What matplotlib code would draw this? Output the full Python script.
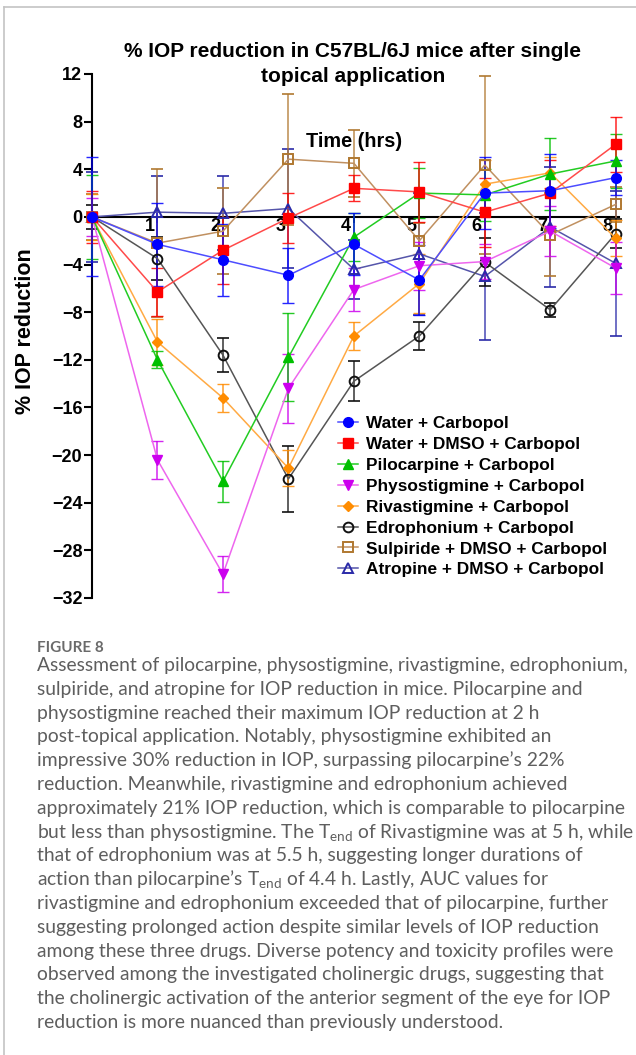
import matplotlib
matplotlib.use("Agg")
import matplotlib.pyplot as plt
from matplotlib.lines import Line2D
from matplotlib.transforms import ScaledTranslation

W, H = 636, 1055

# data (% IOP reduction, mean and SEM)
hours = [0, 1, 2, 3, 4, 5, 6, 7, 8]
hour_labels = ["1", "2", "3", "4", "5", "6", "7", "8"]

water = [0, -2.3, -3.6, -4.9, -2.3, -5.3, 2.0, 2.2, 3.3]
water_err = [5.0, 3.5, 3.0, 2.3, 2.6, 2.9, 3.0, 3.1, 1.5]

water_dmso = [0, -6.3, -2.8, -0.1, 2.4, 2.1, 0.4, 2.0, 6.1]
water_dmso_err = [2.2, 2.0, 2.8, 2.1, 1.1, 2.5, 2.9, 2.8, 2.3]

pilocarpine = [0, -12.0, -22.2, -11.8, -1.7, 2.0, 1.85, 3.6, 4.7]
pilocarpine_err = [3.5, 0.7, 1.7, 3.7, 2.0, 2.1, 2.2, 3.0, 2.3]

physostigmine = [0, -20.4, -30.0, -14.4, -6.1, -4.1, -3.75, -1.2, -4.3]
physostigmine_err = [1.6, 1.6, 1.5, 2.9, 1.8, 2.0, 1.5, 2.1, 2.2]

rivastigmine = [0, -10.5, -15.2, -21.1, -10.0, -5.6, 2.75, 3.7, -1.8]
rivastigmine_err = [1.9, 1.9, 1.2, 1.5, 1.2, 2.5, 2.0, 1.3, 1.5]

edrophonium = [0, -3.5, -11.6, -22.0, -13.8, -10.0, -3.8, -7.8, -1.4]
edrophonium_err = [1.0, 1.8, 1.4, 2.8, 1.7, 1.2, 2.0, 0.6, 1.2]

sulpiride = [0, -2.2, -1.2, 4.85, 4.5, -2.0, 4.35, -1.5, 1.05]
sulpiride_err = [1.9, 6.2, 3.6, 5.5, 2.8, 1.5, 7.5, 3.5, 1.5]

atropine = [0, 0.4, 0.3, 0.7, -4.4, -3.1, -5.0, -0.85, -3.9]
atropine_err = [3.8, 3.0, 3.1, 5.0, 2.5, 5.1, 5.3, 5.0, 6.1]

series_names = [
    "Water + Carbopol",
    "Water + DMSO + Carbopol",
    "Pilocarpine + Carbopol",
    "Physostigmine + Carbopol",
    "Rivastigmine + Carbopol",
    "Edrophonium + Carbopol",
    "Sulpiride + DMSO + Carbopol",
    "Atropine + DMSO + Carbopol",
]
series_values = [water, water_dmso, pilocarpine, physostigmine,
                 rivastigmine, edrophonium, sulpiride, atropine]
series_errors = [water_err, water_dmso_err, pilocarpine_err, physostigmine_err,
                 rivastigmine_err, edrophonium_err, sulpiride_err, atropine_err]

# (marker, size, marker colour, line colour, filled)
styles = [
    ("o", 7.0, "#0000ff", "#4d4dff", True),
    ("s", 6.5, "#ff0000", "#ff4a4a", True),
    ("^", 7.0, "#00c000", "#22cc22", True),
    ("v", 7.0, "#cc00ee", "#ee66ee", True),
    ("D", 5.0, "#ff8c00", "#ffaa44", True),
    ("o", 7.0, "#111111", "#555555", False),
    ("s", 7.5, "#b07830", "#c09060", False),
    ("^", 7.5, "#2a2aa8", "#5555aa", False),
]

title = "% IOP reduction in C57BL/6J mice after single\ntopical application"

caption_head = "FIGURE 8"
caption_lines = [
    "Assessment of pilocarpine, physostigmine, rivastigmine, edrophonium,",
    "sulpiride, and atropine for IOP reduction in mice. Pilocarpine and",
    "physostigmine reached their maximum IOP reduction at 2 h",
    "post-topical application. Notably, physostigmine exhibited an",
    "impressive 30% reduction in IOP, surpassing pilocarpine\u2019s 22%",
    "reduction. Meanwhile, rivastigmine and edrophonium achieved",
    "approximately 21% IOP reduction, which is comparable to pilocarpine",
    "but less than physostigmine. The T$_{\\rm end}$ of Rivastigmine was at 5 h, while",
    "that of edrophonium was at 5.5 h, suggesting longer durations of",
    "action than pilocarpine\u2019s T$_{\\rm end}$ of 4.4 h. Lastly, AUC values for",
    "rivastigmine and edrophonium exceeded that of pilocarpine, further",
    "suggesting prolonged action despite similar levels of IOP reduction",
    "among these three drugs. Diverse potency and toxicity profiles were",
    "observed among the investigated cholinergic drugs, suggesting that",
    "the cholinergic activation of the anterior segment of the eye for IOP",
    "reduction is more nuanced than previously understood.",
]

plt.rcParams["font.family"] = ["Liberation Sans", "DejaVu Sans"]
plt.rcParams["mathtext.fontset"] = "custom"
plt.rcParams["mathtext.rm"] = "Lato"
plt.rcParams["mathtext.it"] = "Lato:italic"

fig = plt.figure(figsize=(W / 100, H / 100), dpi=100)
fig.patch.set_facecolor("white")

# thin grey frame of the figure panel (top and left edges)
fig.add_artist(Line2D([4 / W, 4 / W], [0, 1 - 7 / H], color="#c4c4c4", lw=1.2))
fig.add_artist(Line2D([4 / W, 1], [1 - 7 / H, 1 - 7 / H], color="#c4c4c4", lw=1.2))

ax = fig.add_axes([92 / W, 1 - 598 / H, (619 - 92) / W, (598 - 74) / H])
ax.set_xlim(0, 8.05)
ax.set_ylim(-32, 12)

handles = []
for name, vals, errs, st in reversed(list(zip(series_names, series_values, series_errors, styles))):
    marker, ms, mcol, lcol, filled = st
    cont = ax.errorbar(
        hours, vals, yerr=errs, color=lcol, lw=1.1,
        marker=marker, ms=ms, mfc=mcol if filled else "none", mec=mcol,
        mew=1.0 if filled else 1.4,
        ecolor=mcol, elinewidth=1.1, capsize=4.2, capthick=1.1,
        clip_on=False, label=name,
    )
    for art in cont.lines[1] + cont.lines[2]:
        art.set_clip_on(False)
        art.set_alpha(0.85)
    handles.append(cont[0])
handles = handles[::-1]

# axes styling: y axis on the left, x axis through zero
for side in ("top", "right"):
    ax.spines[side].set_visible(False)
ax.spines["bottom"].set_position(("data", 0))
ax.spines["left"].set_linewidth(1.5)
ax.spines["bottom"].set_linewidth(1.5)
ax.spines["left"].set_zorder(0.5)
ax.spines["bottom"].set_zorder(0.5)

ax.set_yticks(range(-32, 13, 4))
ax.tick_params(axis="y", direction="out", length=6, width=1.5, pad=1,
               labelsize=13)
for lab in ax.get_yticklabels():
    lab.set_fontweight("bold")

ax.set_xticks(hours[1:], hour_labels)
ax.tick_params(axis="x", direction="out", length=4, width=1.2, pad=0,
               labelsize=13)
shift = ScaledTranslation(-3 / 100, 4 / 100, fig.dpi_scale_trans)
for lab in ax.get_xticklabels():
    lab.set_fontweight("bold")
    lab.set_horizontalalignment("right")
    lab.set_transform(lab.get_transform() + shift)

ax.set_ylabel("% IOP reduction", fontsize=15.5, fontweight="bold")
ax.yaxis.set_label_coords((36 - 92) / (619 - 92), (598 - 331) / (598 - 74))

ax.text(0.5 * 8.05 * 0.995, 6.3, "Time (hrs)", ha="center", va="center",
        fontsize=14.3, fontweight="bold")

fig.text(353 / W, 1 - 64 / H, title, ha="center", va="center",
         fontsize=15, fontweight="bold", linespacing=1.38)

leg = ax.legend(
    handles=handles, labels=series_names, loc="upper left",
    bbox_to_anchor=(338 / W, 1 - 416 / H), bbox_transform=fig.transFigure,
    frameon=False, borderpad=0, borderaxespad=0, handlelength=1.15,
    handletextpad=0.5, labelspacing=0.34, prop={"weight": "bold", "size": 12.4},
)

# caption below the chart
fig.text(37 / W, 1 - 652 / H, caption_head, ha="left", va="baseline",
         fontsize=11, color="#6a6a6a", family=["Lato", "DejaVu Sans"],
         fontweight="bold")
for i, line in enumerate(caption_lines):
    fig.text(37 / W, 1 - (671 + i * 23.8) / H, line, ha="left", va="baseline",
             fontsize=13.9, color="#5e5e5e", family=["Lato", "DejaVu Sans"])

fig.savefig("out.png", dpi=100)
